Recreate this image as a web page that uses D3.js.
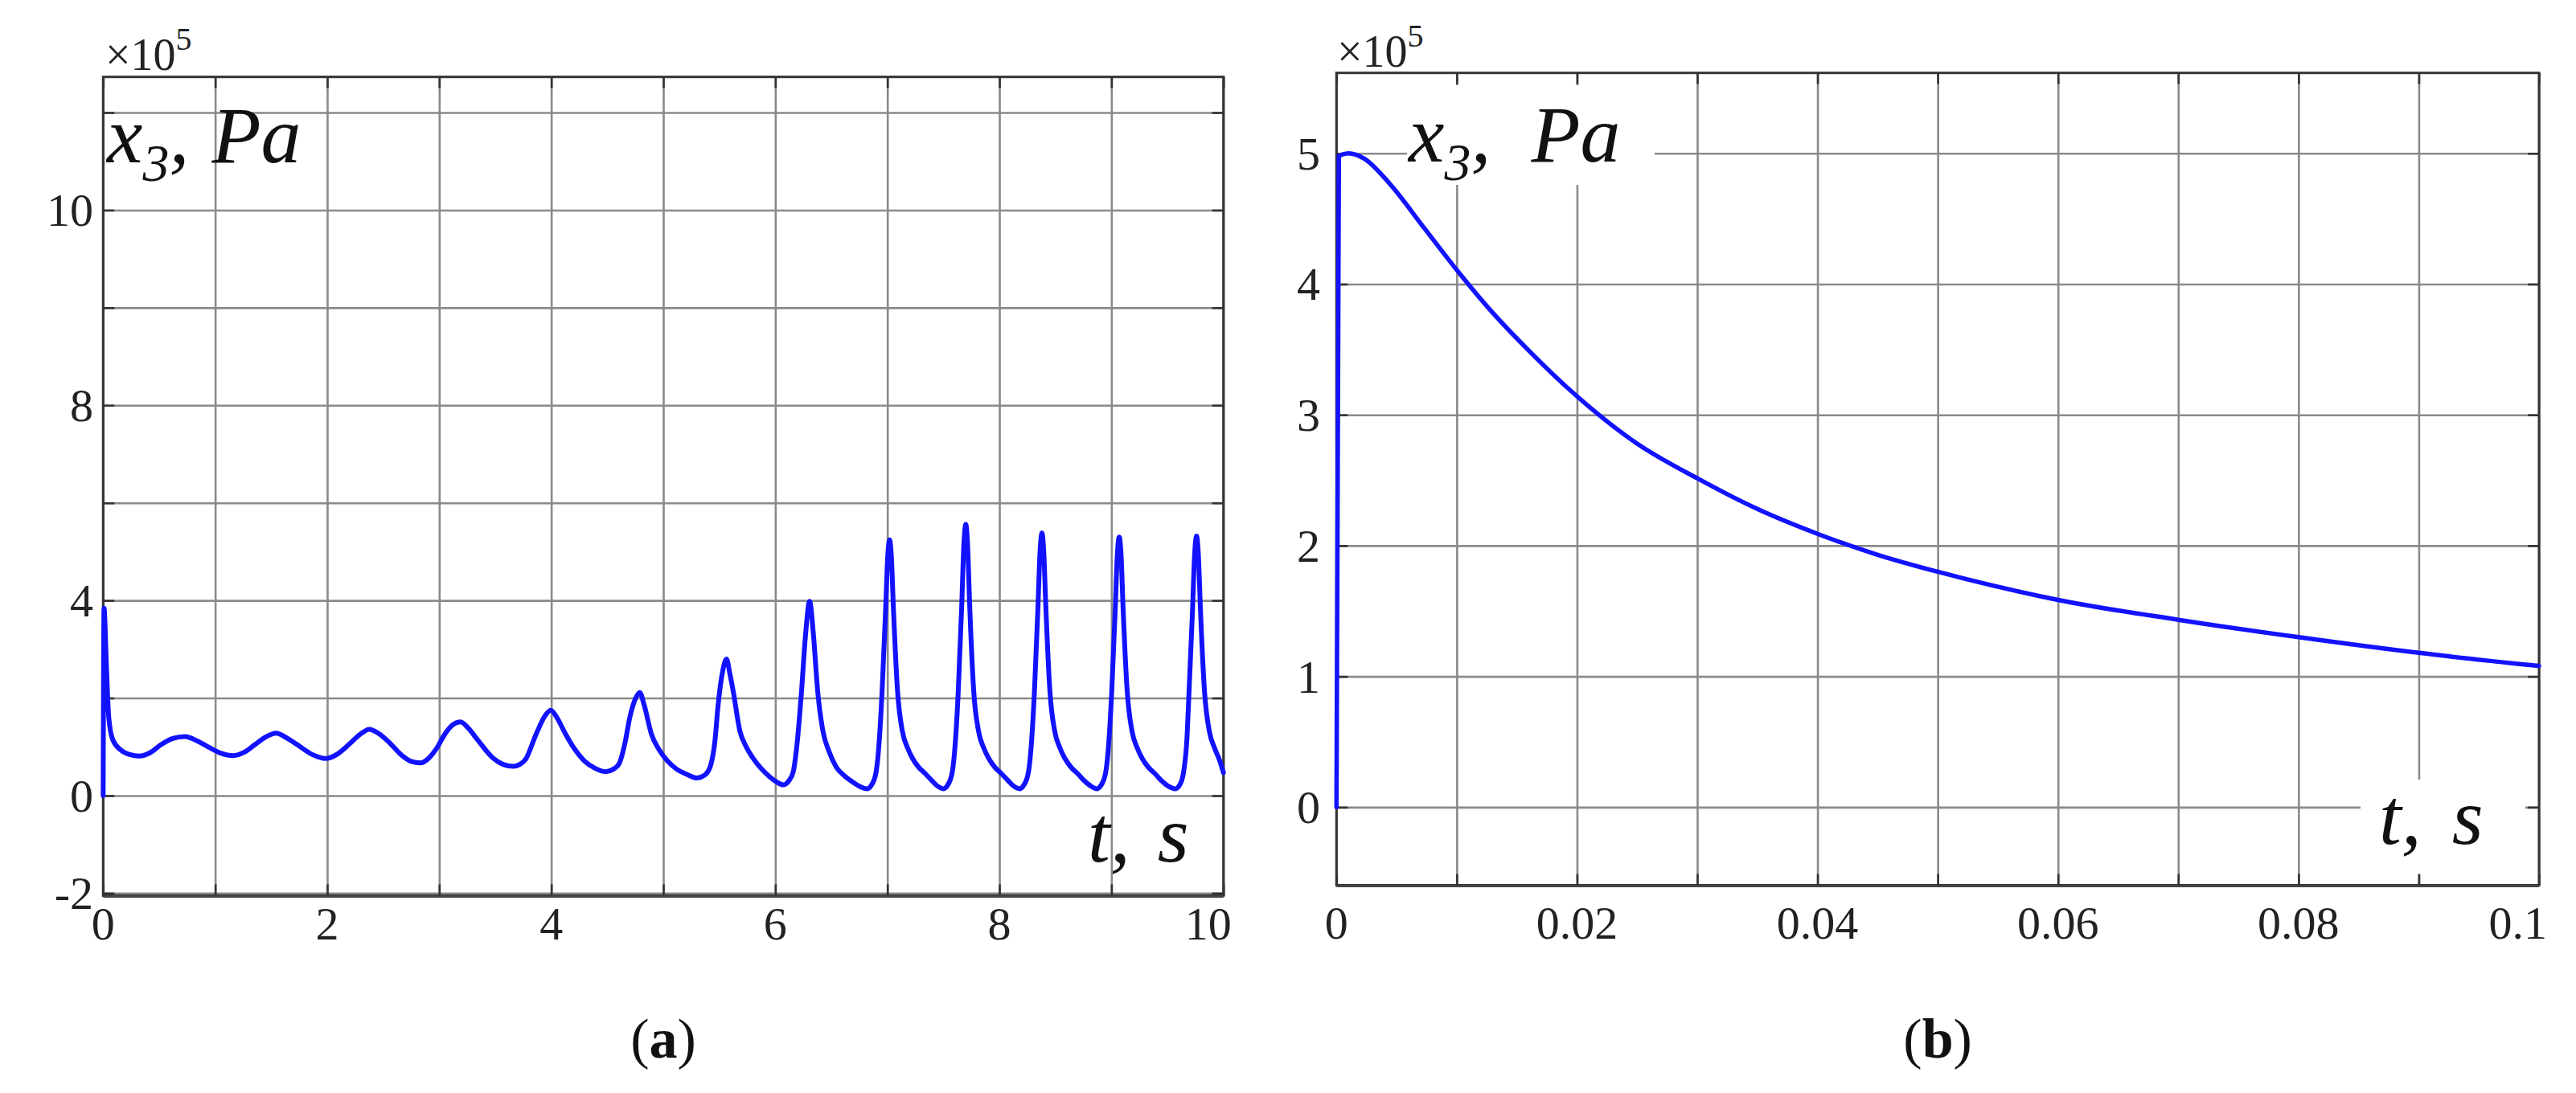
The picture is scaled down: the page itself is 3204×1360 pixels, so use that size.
<!DOCTYPE html>
<html><head><meta charset="utf-8">
<script src="https://cdn.jsdelivr.net/npm/d3@7"></script>
<style>
body{margin:0;background:#fff}
svg{display:block}
text{font-family:"Liberation Serif","Times New Roman",serif;}
</style>
</head><body>
<svg id="c" width="3204" height="1360"></svg>
<script>
// ---------- Panel (a): x3 (×10^5 Pa) vs t (s), 0..10 s ----------
const tA = [0,0.008,0.03,0.05,0.085,0.16,0.24,0.32,0.42,0.515,0.62,0.73,0.84,0.945,1.05,1.16,1.26,1.352,1.45,1.544,1.64,1.735,1.86,1.986,2.09,2.19,2.29,2.376,2.46,2.549,2.668,2.75,2.83,2.908,2.98,3.05,3.12,3.19,3.26,3.34,3.48,3.57,3.66,3.72,3.77,3.865,3.94,3.996,4.05,4.128,4.21,4.296,4.39,4.487,4.56,4.607,4.66,4.70,4.75,4.79,4.83,4.894,4.96,5.037,5.12,5.205,5.30,5.37,5.42,5.46,5.49,5.53,5.564,5.594,5.624,5.684,5.74,5.80,5.947,6.01,6.07,6.12,6.16,6.20,6.234,6.27,6.306,6.34,6.378,6.425,6.48,6.545,6.62,6.69,6.76,6.82,
6.86,6.90,6.93,6.953,6.984,7.003,7.02,7.036,7.055,7.091,7.134,7.18,7.223,7.28,7.343,7.40,7.45,7.50,
7.54,7.58,7.61,7.633,7.664,7.683,7.70,7.716,7.735,7.771,7.814,7.86,7.903,7.96,8.023,8.08,8.13,8.18,
8.22,8.26,8.29,8.313,8.344,8.363,8.38,8.396,8.415,8.451,8.494,8.54,8.583,8.64,8.703,8.76,8.82,8.87,
8.91,8.95,8.98,9.003,9.034,9.053,9.07,9.086,9.105,9.141,9.184,9.23,9.273,9.33,9.393,9.45,9.51,9.57,
9.61,9.645,9.675,9.693,9.724,9.743,9.76,9.776,9.795,9.831,9.874,9.92,9.963,10.0];
const vA = [0,3.84,2.6,1.6,1.15,0.93,0.84,0.81,0.88,1.04,1.17,1.21,1.12,0.99,0.87,0.82,0.89,1.04,1.20,1.28,1.18,1.04,0.85,0.76,0.85,1.04,1.25,1.36,1.27,1.10,0.82,0.70,0.67,0.77,0.98,1.26,1.45,1.51,1.38,1.15,0.77,0.64,0.60,0.64,0.74,1.26,1.62,1.75,1.60,1.26,0.95,0.71,0.56,0.49,0.55,0.66,1.10,1.59,1.98,2.11,1.85,1.26,0.95,0.71,0.54,0.44,0.36,0.42,0.60,1.10,1.87,2.55,2.80,2.50,2.14,1.32,1.00,0.77,0.39,0.28,0.22,0.30,0.49,1.20,2.14,3.30,3.98,3.30,2.14,1.32,0.90,0.58,0.40,0.28,0.18,0.14,
0.22,0.49,1.2,2.14,3.79,4.89,5.24,4.89,3.79,2.14,1.32,0.98,0.77,0.58,0.44,0.30,0.19,0.14,
0.22,0.49,1.2,2.14,3.9,5.15,5.56,5.15,3.9,2.14,1.32,0.98,0.77,0.58,0.44,0.30,0.19,0.14,
0.22,0.49,1.2,2.14,3.85,5.0,5.38,5.0,3.85,2.14,1.32,0.98,0.77,0.58,0.44,0.30,0.19,0.14,
0.22,0.49,1.2,2.14,3.8,4.94,5.30,4.94,3.8,2.14,1.32,0.98,0.77,0.58,0.44,0.30,0.19,0.14,
0.22,0.49,1.2,2.14,3.8,4.95,5.32,4.95,3.8,2.14,1.32,0.98,0.74,0.47];
const gridXA = [0,1,2,3,4,5,6,7,8,9,10];
const gridYA = [-2,0,2,4,6,8,10,12,14];
const xTicksA = [0,2,4,6,8,10];
const xLabelsA = ["0","2","4","6","8","10"];
const yTicksA = [-2,0,4,8,12];
const yLabelsA = ["-2","0","4","8","10"];

// ---------- Panel (b): x3 (×10^5 Pa) vs t (s), 0..0.1 s ----------
const tB = [0,0.0002,0.001,0.0023,0.0045,0.0072,0.0099,0.0129,0.0159,0.0199,0.025,0.0301,0.035,0.040,0.045,0.050,0.060,0.070,0.080,0.090,0.100];
const vB = [0,4.98,5.0,4.96,4.76,4.44,4.12,3.79,3.50,3.15,2.78,2.51,2.28,2.09,1.93,1.80,1.585,1.433,1.30,1.18,1.08];
const gridXB = [0,0.01,0.02,0.03,0.04,0.05,0.06,0.07,0.08,0.09,0.1];
const gridYB = [0,1,2,3,4,5];
const xTicksB = [0,0.02,0.04,0.06,0.08,0.1];
const xLabelsB = ["0","0.02","0.04","0.06","0.08","0.1"];
const yTicksB = [0,1,2,3,4,5];
const yLabelsB = ["0","1","2","3","4","5"];

const svg = d3.select('#c');
const BLUE = '#1212ff';

function panel(cfg){
  const x = d3.scaleLinear().domain(cfg.xd).range([cfg.l, cfg.r]);
  const y = d3.scaleLinear().domain(cfg.yd).range([cfg.b, cfg.t]);
  const g = svg.append('g');
  const W = cfg.r - cfg.l, H = cfg.b - cfg.t;

  // grid lines
  g.append('g').attr('transform',`translate(0,${cfg.b})`)
    .call(d3.axisBottom(x).tickValues(cfg.gx).tickSize(-H).tickFormat(''))
    .call(s=>{s.select('.domain').remove();
      s.selectAll('line').attr('stroke','#8a8a8a').attr('stroke-width',2.6);});
  g.append('g').attr('transform',`translate(${cfg.l},0)`)
    .call(d3.axisLeft(y).tickValues(cfg.gy).tickSize(-W).tickFormat(''))
    .call(s=>{s.select('.domain').remove();
      s.selectAll('line').attr('stroke','#8a8a8a').attr('stroke-width',2.6);});

  // white label backgrounds
  (cfg.boxes||[]).forEach(bx=>{
    g.append('rect').attr('x',bx[0]).attr('y',bx[1]).attr('width',bx[2]).attr('height',bx[3]).attr('fill','#fff');
  });

  // frame
  g.append('rect').attr('x',cfg.l).attr('y',cfg.t).attr('width',W).attr('height',H)
    .attr('fill','none').attr('stroke','#333').attr('stroke-width',3);
  g.append('line').attr('x1',cfg.l).attr('x2',cfg.r).attr('y1',cfg.b+1).attr('y2',cfg.b+1)
    .attr('stroke','#444').attr('stroke-width',3);

  // inward tick marks on all four sides
  const tk = 14;
  const styleT = s=>{s.select('.domain').remove(); s.selectAll('line').attr('stroke','#333').attr('stroke-width',2.6);};
  g.append('g').attr('transform',`translate(0,${cfg.b})`).call(d3.axisBottom(x).tickValues(cfg.gx).tickSize(-tk).tickFormat('')).call(styleT);
  g.append('g').attr('transform',`translate(0,${cfg.t})`).call(d3.axisTop(x).tickValues(cfg.gx).tickSize(-tk).tickFormat('')).call(styleT);
  g.append('g').attr('transform',`translate(${cfg.l},0)`).call(d3.axisLeft(y).tickValues(cfg.gy).tickSize(-tk).tickFormat('')).call(styleT);
  g.append('g').attr('transform',`translate(${cfg.r},0)`).call(d3.axisRight(y).tickValues(cfg.gy).tickSize(-tk).tickFormat('')).call(styleT);

  // curve
  const pts = cfg.ts.map((t,i)=>[t,cfg.vs[i]]);
  g.append('path').datum(pts)
    .attr('d', d3.line().x(d=>x(d[0])).y(d=>y(d[1])).curve(d3.curveMonotoneX))
    .attr('fill','none').attr('stroke',BLUE).attr('stroke-width',cfg.lw)
    .attr('stroke-linejoin','round').attr('stroke-linecap','round');

  // x tick labels
  cfg.xt.forEach((v,i)=>{
    const last = i===cfg.xt.length-1;
    g.append('text').attr('x', last ? cfg.r+10 : x(v)).attr('y', cfg.xly)
      .attr('text-anchor', last ? 'end' : 'middle')
      .attr('font-size',58).attr('fill','#222').text(cfg.xl[i]);
  });
  // y tick labels
  cfg.yt.forEach((v,i)=>{
    g.append('text').attr('x', cfg.ylx).attr('y', y(v)+20)
      .attr('text-anchor','end').attr('font-size',58).attr('fill','#222').text(cfg.yl[i]);
  });

  // ×10^5
  const m = g.append('text').attr('x',cfg.mx).attr('y',cfg.my).attr('fill','#222');
  m.append('tspan').attr('font-size',56).text('×10');
  m.append('tspan').attr('font-size',40).attr('dy',-25).text('5');

  // y-axis name
  const yn = g.append('text').attr('x',cfg.ynx).attr('y',cfg.yny).attr('font-style','italic').attr('fill','#111');
  yn.append('tspan').attr('font-size',100).text('x');
  yn.append('tspan').attr('font-size',66).attr('dy',23).text('3');
  yn.append('tspan').attr('font-size',100).attr('dy',-23).text(',');
  yn.append('tspan').attr('font-size',100).attr('dx',cfg.yngap).text('Pa');

  // x-axis name
  const xn = g.append('text').attr('x',cfg.xnx).attr('y',cfg.xny).attr('font-style','italic').attr('fill','#111').attr('font-size',100);
  xn.append('tspan').text('t,');
  xn.append('tspan').attr('dx',cfg.xngap).text('s');

  // caption
  const c = g.append('text').attr('x',(cfg.l+cfg.r)/2).attr('y',1316).attr('text-anchor','middle')
    .attr('font-size',70).attr('fill','#111');
  c.append('tspan').text('(');
  c.append('tspan').attr('font-weight','bold').text(cfg.cap);
  c.append('tspan').text(')');
}

panel({l:128.3, r:1521.7, t:95.7, b:1114.4, xd:[0,10], yd:[-2.05,14.73],
  gx:gridXA, gy:gridYA, xt:xTicksA, xl:xLabelsA, yt:yTicksA, yl:yLabelsA,
  ts:tA, vs:vA, lw:6, xly:1169, ylx:116,
  mx:131, my:86.7, ynx:133, yny:201.7, yngap:28,
  xnx:1353, xny:1071.7, xngap:34, cap:'a', boxes:[]});

panel({l:1662.3, r:3158, t:90.7, b:1101.5, xd:[0,0.1], yd:[-0.597,5.615],
  gx:gridXB, gy:gridYB, xt:xTicksB, xl:xLabelsB, yt:yTicksB, yl:yLabelsB,
  ts:tB, vs:vB, lw:5.5, xly:1168, ylx:1642,
  mx:1663, my:82.7, ynx:1752, yny:201, yngap:50,
  xnx:2959, xny:1050, xngap:38, cap:'b',
  boxes:[[1750,106,308,124],[2936,970,205,118]]});
</script>
</body></html>
